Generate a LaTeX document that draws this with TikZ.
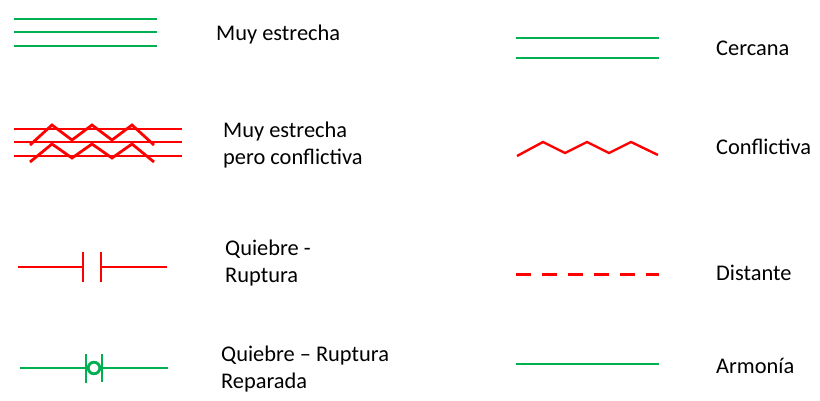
\documentclass[tikz,border=0pt]{standalone}
\usepackage{fontspec}
\setmainfont{Carlito}
\usepackage{tikz}
\definecolor{verdeenlace}{RGB}{0,176,80}
\definecolor{rojoenlace}{RGB}{255,0,0}
\tikzset{
  armonia/.style = {
    draw = verdeenlace,
    line width = 2.2pt
  },
  conflicto/.style = {
    draw = rojoenlace,
    line width = 2.4pt
  },
  zigzag/.style = {
    draw = rojoenlace,
    line width = 2.8pt,
    line join = miter
  },
  etiqueta/.style = {
    anchor = base west,
    inner sep = 0pt,
    align = left,
    font = \fontsize{22.4}{26.5}\selectfont
  },
}

\begin{document}
\begin{tikzpicture}[x = 1pt, y = -1pt]
  \useasboundingbox (0,0) rectangle (820,400);
  % muy estrecha
  \foreach \y in {19, 32, 46}
    \draw[armonia] (14,\y) -- (157,\y);
  \node[etiqueta] (muyestrecha) at (216,40) {Muy estrecha};
  % muy estrecha pero conflictiva
  \foreach \y in {129, 142, 156}
    \draw[conflicto] (14,\y) -- (182,\y);
  \draw[zigzag] (30,145) -- (52,125) -- (72,140) -- (92,125) -- (112,140)
    -- (132,125) -- (154,145);
  \draw[zigzag] (30,162) -- (52,144) -- (72,158) -- (92,144) -- (112,158)
    -- (132,144) -- (154,162);
  \node[etiqueta] (conflictiva) at (223,164) {Muy estrecha\\pero conflictiva};
  % quiebre
  \draw[conflicto] (18,267) -- (83,267) (83,252) -- (83,282);
  \draw[conflicto] (101,252) -- (101,282) (101,267) -- (167,267);
  \node[etiqueta] (quiebre) at (225,282) {Quiebre -\\Ruptura};
  % quiebre reparado
  \draw[armonia] (20,368) -- (86,368) (86,354) -- (86,383);
  \draw[armonia] (102,354) -- (102,382) (102,368) -- (168,368);
  \draw[armonia, line width = 2.8pt] (94,368) circle (5.8);
  \node[etiqueta] (reparada) at (221,388) {Quiebre – Ruptura\\Reparada};
  % columna derecha
  \draw[armonia] (516,38) -- (659,38) (516,58) -- (659,58);
  \node[etiqueta] (cercana) at (716,55) {Cercana};
  \draw[zigzag, line width = 2.4pt] (517,156) -- (543,142) -- (565,153)
    -- (587,142) -- (609,153) -- (631,142) -- (658,155);
  \node[etiqueta] (conflicto) at (716,154) {Conflictiva};
  \draw[conflicto, line width = 3pt, dash pattern = on 15pt off 11pt]
    (516,274) -- (659,274);
  \node[etiqueta] (distante) at (716,280) {Distante};
  \draw[armonia] (516,364) -- (659,364);
  \node[etiqueta] (armonia) at (716,373) {Armonía};
\end{tikzpicture}
\end{document}
